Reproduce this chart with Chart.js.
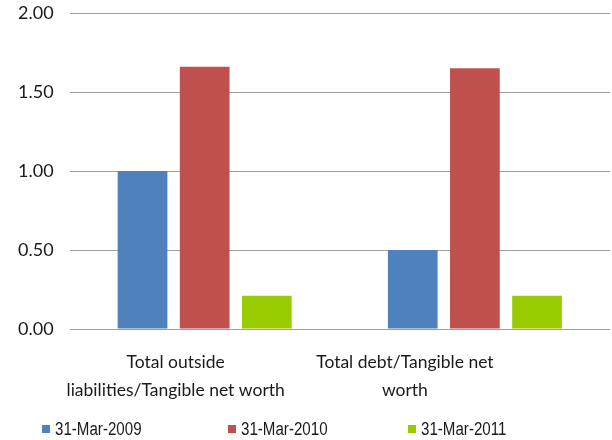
<!DOCTYPE html>
<html>
<head>
<meta charset="utf-8">
<script src="https://cdn.jsdelivr.net/npm/chart.js@4.4.1/dist/chart.umd.min.js"></script>
<style>
  html, body { margin: 0; padding: 0; background: #fff; }
  #wrap { width: 612px; height: 440px; }
</style>
</head>
<body>
<div id="wrap"><canvas id="ratioChart" width="612" height="440"></canvas></div>
<script>
// categories and series values
const categories = [
  ['Total outside', 'liabilities/Tangible net worth'],
  ['Total debt/Tangible net', 'worth']
];
const seriesNames = ['31-Mar-2009', '31-Mar-2010', '31-Mar-2011'];
const values2009 = [1.00, 0.50];
const values2010 = [1.66, 1.65];
const values2011 = [0.21, 0.21];
const seriesColors = ['#4F81BD', '#C0504D', '#99CC00'];

// category labels sit a bit left of the bar groups
const labelShift = [-29, -70];
const legendX = [42, 228, 408];

const textPlugin = {
  id: 'textPlugin',
  afterDraw(chart) {
    const { ctx, chartArea } = chart;
    const x = chart.scales.x;
    ctx.save();
    ctx.fillStyle = '#1a1a1a';
    ctx.textAlign = 'center';
    ctx.textBaseline = 'middle';
    ctx.font = '17.5px Lato';
    categories.forEach((lines, i) => {
      const cx = x.getPixelForValue(i) + labelShift[i];
      lines.forEach((line, j) => {
        ctx.fillText(line, cx, chartArea.bottom + 33 + j * 28);
      });
    });

    // legend row
    const ly = 429;
    chart.data.datasets.forEach((ds, i) => {
      ctx.fillStyle = ds.backgroundColor;
      ctx.fillRect(legendX[i], ly - 4, 8, 8);
      ctx.save();
      ctx.translate(legendX[i] + 13, ly);
      ctx.scale(0.84, 1);
      ctx.fillStyle = '#1a1a1a';
      ctx.textAlign = 'left';
      ctx.font = '18px "Liberation Sans"';
      ctx.fillText(ds.label, 0, 1);
      ctx.restore();
    });
    ctx.restore();
  }
};

new Chart(document.getElementById('ratioChart').getContext('2d'), {
  type: 'bar',
  data: {
    labels: categories.map(c => c.join(' ')),
    datasets: [
      { label: seriesNames[0], data: values2009, backgroundColor: seriesColors[0] },
      { label: seriesNames[1], data: values2010, backgroundColor: seriesColors[1] },
      { label: seriesNames[2], data: values2011, backgroundColor: seriesColors[2] }
    ]
  },
  options: {
    responsive: false,
    animation: false,
    categoryPercentage: 0.69,
    barPercentage: 0.8,
    layout: { padding: { left: 2, right: 2, top: 13, bottom: 111 } },
    plugins: {
      legend: { display: false },
      tooltip: { enabled: false }
    },
    scales: {
      x: {
        display: false
      },
      y: {
        min: 0,
        max: 2,
        border: { display: false },
        grid: { color: '#a0a0a0', lineWidth: 1, drawTicks: false },
        ticks: {
          stepSize: 0.5,
          padding: 16,
          color: '#1a1a1a',
          font: { family: 'Lato', size: 18 },
          callback: v => v.toFixed(2)
        },
        // keep the tick padding from pushing the plot area down
        afterFit(scale) {
          scale.paddingTop = 0;
          scale.paddingBottom = 0;
        }
      }
    }
  },
  plugins: [textPlugin]
});
</script>
</body>
</html>
